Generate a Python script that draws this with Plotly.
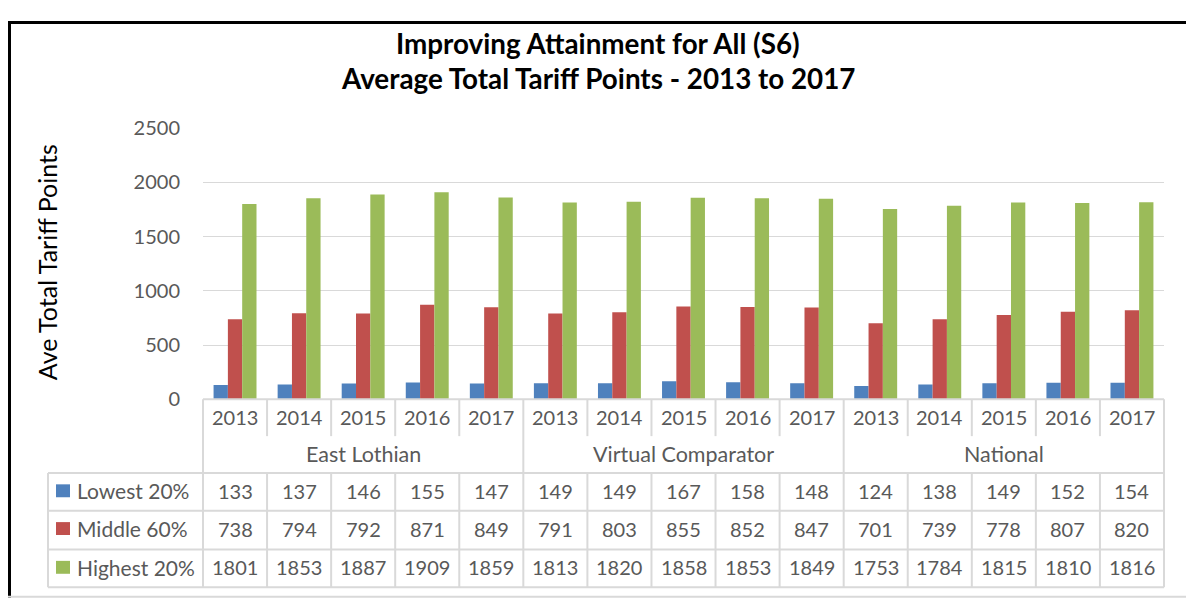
import plotly.graph_objects as go

W, H = 1194, 601

groups = ["East Lothian", "Virtual Comparator", "National"]
years = ["2013", "2014", "2015", "2016", "2017"]
series_names = ["Lowest 20%", "Middle 60%", "Highest 20%"]
lowest = [133, 137, 146, 155, 147, 149, 149, 167, 158, 148, 124, 138, 149, 152, 154]
middle = [738, 794, 792, 871, 849, 791, 803, 855, 852, 847, 701, 739, 778, 807, 820]
highest = [1801, 1853, 1887, 1909, 1859, 1813, 1820, 1858, 1853, 1849, 1753, 1784, 1815, 1810, 1816]
colors = ["#4F81BD", "#C0504D", "#9BBB59"]

cats = [g + " " + y for g in groups for y in years]
values = [lowest, middle, highest]

FONT = "Lato"
GREY_TXT = "#595959"
LINE = "#d9d9d9"

# the page gets shifted/squeezed a little when photographed, compensate for it
SY, OY, OX = 0.966, 19.3, 8


def py(ypx):
    # target pixel row -> paper y
    return 1 - (ypx - OY) / SY / H


def px(xpx):
    return (xpx - OX) / W


fig = go.Figure()
for name, vals, col in zip(series_names, values, colors):
    fig.add_trace(go.Bar(x=cats, y=vals, name=name, marker_color=col,
                         marker_line_width=0, showlegend=False))

x0, x1 = 203, 1164
fig.update_layout(
    width=W, height=H,
    margin=dict(l=0, r=0, t=0, b=0),
    paper_bgcolor="white", plot_bgcolor="white",
    barmode="group", bargap=0.33, bargroupgap=0,
    font=dict(family=FONT, size=20, color=GREY_TXT),
    xaxis=dict(domain=[px(x0), px(x1)], showticklabels=False, showgrid=False,
               zeroline=False, type="category"),
    yaxis=dict(domain=[py(400), py(127)], range=[0, 2500], dtick=500,
               gridcolor=LINE, gridwidth=1, zeroline=False,
               tickfont=dict(size=20, color=GREY_TXT), ticks="", ticklabelstandoff=22),
)

shapes = []
ann = []


def text(t, x, y, xref="paper", size=20, color=GREY_TXT, xanchor="center", **kw):
    ann.append(dict(text=t, x=x, y=y, xref=xref, yref="paper", showarrow=False,
                    xanchor=xanchor, yanchor="middle",
                    font=dict(size=size, color=color, family=FONT), **kw))


# title
text("<b>Improving Attainment for All (S6)</b>", px(598), py(42), size=27.8, color="black")
text("<b>Average Total Tariff Points - 2013 to 2017</b>", px(598), py(77), size=27.8, color="black")
# y axis title
text("Ave Total Tariff Points", px(47), py(262), size=25, color="black", textangle=-90)

# data table
row_top, row_yr, row_grp = 400, 437, 474
rows = [474, 512, 551, 589]
row_txt = [492, 530, 569]
n = len(cats)


def hline(y, xa, xb):
    shapes.append(dict(type="line", xref="paper", yref="paper", x0=px(xa), x1=px(xb),
                       y0=py(y), y1=py(y), line=dict(color=LINE, width=2)))


def vline(xd, ya, yb, ref="x domain"):
    shapes.append(dict(type="line", xref=ref, yref="paper", x0=xd, x1=xd,
                       y0=py(ya), y1=py(yb), line=dict(color=LINE, width=2)))


hline(row_top, x0, x1)
for r in rows:
    hline(r, 48, x1)
vline(px(48), rows[0], rows[-1], ref="paper")
for i in range(n + 1):
    if i % 5 == 0:
        vline(i / n, row_top, rows[-1])
    else:
        vline(i / n, row_top, row_yr)
        vline(i / n, row_grp, rows[-1])

for i, c in enumerate(cats):
    text(years[i % 5], c, py(417.5), xref="x")
for gi, g in enumerate(groups):
    text(g, (gi * 5 + 2.5) / n, py(455), xref="x domain", size=21.5)

for si, (name, vals, col) in enumerate(zip(series_names, values, colors)):
    yc = row_txt[si]
    shapes.append(dict(type="rect", xref="paper", yref="paper", x0=px(56), x1=px(70),
                       y0=py(yc - 6.5), y1=py(yc + 6.5), fillcolor=col, line_width=0))
    text(name, px(75), py(yc), size=21, xanchor="left")
    for c, v in zip(cats, vals):
        text(str(v), c, py(yc), xref="x")

# outer border
shapes.append(dict(type="line", xref="paper", yref="paper", x0=px(9.5), x1=px(9.5), y0=0, y1=1,
                   line=dict(color="black", width=3)))
shapes.append(dict(type="line", xref="paper", yref="paper", x0=0, x1=1, y0=py(20.8), y1=py(20.8),
                   line=dict(color="black", width=3)))
shapes.append(dict(type="line", xref="paper", yref="paper", x0=px(1192.5), x1=px(1192.5), y0=0, y1=1,
                   line=dict(color="black", width=3)))
shapes.append(dict(type="line", xref="paper", yref="paper", x0=px(1190), x1=px(1190), y0=0, y1=1,
                   line=dict(color=LINE, width=1)))
shapes.append(dict(type="line", xref="paper", yref="paper", x0=0, x1=1, y0=py(598.5), y1=py(598.5),
                   line=dict(color=LINE, width=2)))

fig.update_layout(shapes=shapes, annotations=ann)
fig.write_html("out.html")
